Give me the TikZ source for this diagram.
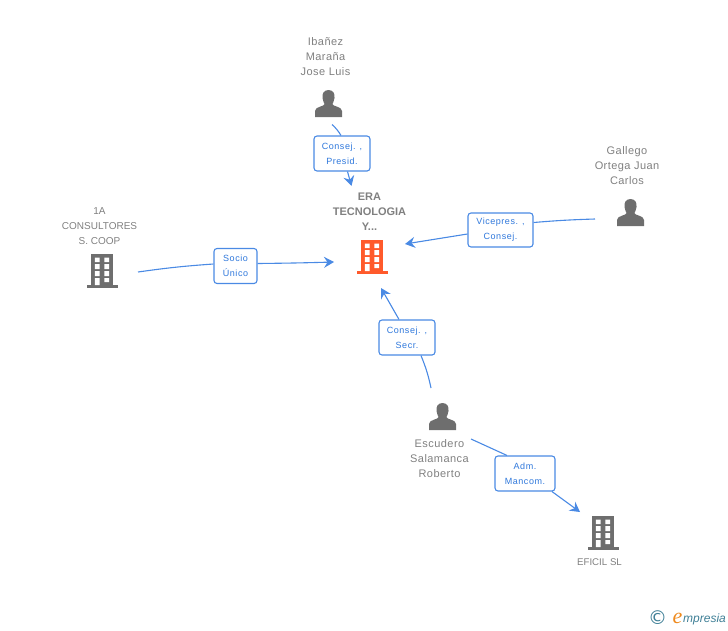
\documentclass[tikz,border=0pt]{standalone}
\usepackage{fontspec}
\setmainfont{Liberation Sans}
\newfontfamily\spacedfont[LetterSpace=4]{Liberation Sans}
\newfontfamily\linkfont[LetterSpace=6]{Liberation Sans}
\newfontfamily\logofont{Liberation Serif}
\newfontfamily\logosans{Liberation Sans}
\newfontfamily\symfont{DejaVu Sans}
\usetikzlibrary{arrows.meta}
\definecolor{txtgrey}{HTML}{808080}
\definecolor{icongrey}{HTML}{6E6E6E}
\definecolor{hotred}{HTML}{FF5A2B}
\definecolor{linkblue}{HTML}{4A8AE4}
\definecolor{linktxt}{HTML}{2F78DC}
\definecolor{logoteal}{HTML}{3F7F96}
\definecolor{logoorange}{HTML}{EE8A1E}
\tikzset{
  x=1pt,y=-1pt,
  namebox/.style={text=txtgrey,align=center,inner sep=0pt,font=\fontsize{11}{15}\spacedfont},
  capsbox/.style={text=txtgrey,align=center,inner sep=0pt,font=\fontsize{10}{15}\selectfont},
  hotname/.style={text=txtgrey,align=center,inner sep=0pt,font=\fontsize{11}{15}\bfseries\selectfont},
  linkbox/.style={draw=linkblue,line width=1.1pt,rounded corners=3pt,fill=white,text=linktxt,
    align=center,inner sep=0pt,font=\fontsize{9}{15}\linkfont},
  conn/.style={draw=linkblue,line width=1.1pt},
  arr/.style={conn,-{Stealth[length=10pt,width=11pt,inset=3.5pt]}},
  building/.pic={
    \fill (-11,0) rectangle (11,31);
    \fill (-15.5,31) rectangle (15.5,33.5);
    \fill[white] (-7.2,3.5) rectangle (-2.4,8) (2.4,3.5) rectangle (7.2,8)
      (-7.2,10) rectangle (-2.4,15) (2.4,10) rectangle (7.2,15)
      (-7.2,17) rectangle (-2.4,22) (2.4,17) rectangle (7.2,22)
      (-7.2,24) rectangle (-2.4,31) (2.4,24) rectangle (7.2,28);
  },
  person/.pic={
    \fill (0,0) .. controls (-5,0) and (-6.5,4) .. (-6,8)
      .. controls (-5.7,11) and (-4.5,12.5) .. (-4,14)
      .. controls (-4,16.5) and (-13.5,16.5) .. (-13.5,21) -- (-13.5,27) -- (13.5,27) -- (13.5,21)
      .. controls (13.5,16.5) and (4,16.5) .. (4,14)
      .. controls (4.5,12.5) and (5.7,11) .. (6,8)
      .. controls (6.5,4) and (5,0) .. (0,0) -- cycle;
  }
}
\begin{document}
\begin{tikzpicture}
\useasboundingbox (0,0) rectangle (728,630);
% icons
\pic[icongrey] at (328.5,90) {person};
\pic[icongrey] at (630.5,199) {person};
\pic[icongrey] at (442.5,403) {person};
\pic[icongrey] at (102,254) {building};
\pic[icongrey] at (603,516) {building};
\pic[hotred] at (372,240) {building};
% names
\node[namebox] (ibanez) at (325.5,57) {Ibañez\\Maraña\\Jose Luis};
\node[namebox] (gallego) at (627,165.5) {Gallego\\Ortega Juan\\Carlos};
\node[capsbox] (consult) at (99.5,226) {1A\\CONSULTORES\\S. COOP};
\node[namebox] (escudero) at (439.5,459) {Escudero\\Salamanca\\Roberto};
\node[capsbox,font=\fontsize{9.7}{15}\selectfont] (eficil) at (599.5,562) {EFICIL SL};
\node[hotname] (era) at (369.5,212) {ERA\\TECNOLOGIA\\Y...};
% link labels
\node[linkbox,minimum width=56pt,minimum height=35pt] (l1) at (342,153.5) {Consej. ,\\Presid.};
\node[linkbox,minimum width=43pt,minimum height=35pt] (l2) at (235.5,266) {Socio\\Único};
\node[linkbox,minimum width=65pt,minimum height=34pt] (l3) at (500.5,230) {Vicepres. ,\\Consej.};
\node[linkbox,minimum width=56pt,minimum height=35pt] (l4) at (407,337.5) {Consej. ,\\Secr.};
\node[linkbox,minimum width=60pt,minimum height=35pt] (l5) at (525,473.5) {Adm.\\Mancom.};
% connector ends
\coordinate (s1) at (332,124.5);
\coordinate (t1) at (351.5,186);
\coordinate (s2) at (138,272);
\coordinate (t2) at (334,262);
\coordinate (s3) at (595,219);
\coordinate (t3) at (405,244);
\coordinate (s4) at (431,388);
\coordinate (t4) at (381,288);
\coordinate (s5) at (471,439);
\coordinate (t5) at (580,512);
% connector anchors on the label borders
\path (l1.north) ++(-1,0) coordinate (i1) (l1.south) ++(5.5,0) coordinate (o1);
\path (l2.west) ++(0,-2) coordinate (i2) (l2.east) ++(0,-2.5) coordinate (o2);
\path (l3.east) ++(0,-7.5) coordinate (i3) (l3.west) ++(0,4) coordinate (o3);
\path (l4.south) ++(14,0) coordinate (i4) (l4.north) ++(-8,0) coordinate (o4);
\path (l5.north) ++(-18,0) coordinate (i5) (l5.south) ++(27,0) coordinate (o5);
% connectors
\draw[conn] (s1) to[bend left=8] (i1);
\draw[arr] (o1) -- (t1);
\draw[conn] (s2) to[bend left=2] (i2);
\draw[arr] (o2) to[bend right=0.5] (t2);
\draw[conn] (s3) to[bend right=1.5] (i3);
\draw[arr] (o3) -- (t3);
\draw[conn] (s4) to[bend right=5] (i4);
\draw[arr] (o4) -- (t4);
\draw[conn] (s5) -- (i5);
\draw[arr] (o5) -- (t5);
% logo
\node[inner sep=0pt,text=logoteal,font=\fontsize{19}{19}\symfont] (copyr) at (657.5,617.5) {©};
\node[inner sep=0pt,text=logoorange,font=\fontsize{22}{22}\logofont\itshape] (logoe) at (677.5,618) {e};
\node[inner sep=0pt,text=logoteal,font=\fontsize{12}{12}\logosans\itshape,anchor=west] (logot) at (683,619.5) {mpresia};
\end{tikzpicture}
\end{document}
